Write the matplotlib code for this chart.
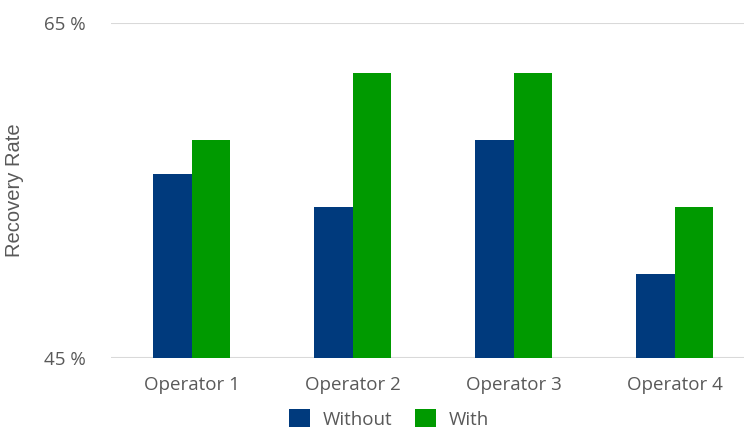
import numpy as np
import matplotlib
matplotlib.use("Agg")
from matplotlib import pyplot as plt

# chart data
operators = ["Operator 1", "Operator 2", "Operator 3", "Operator 4"]
without_vals = [56, 54, 58, 50]
with_vals = [58, 62, 62, 54]
series_names = ["Without", "With"]
colors = ["#003a7d", "#009a00"]

plt.rcParams['font.family'] = ['Open Sans', 'DejaVu Sans']

fig = plt.figure(figsize=(7.44, 4.30), dpi=100)
ax = fig.add_axes([111/744, 72/430, 644/744, 335/430])

x = np.arange(len(operators))
w = 0.24
ax.bar(x - w/2, without_vals, w, color=colors[0], label=series_names[0], zorder=3)
ax.bar(x + w/2, with_vals, w, color=colors[1], label=series_names[1], zorder=3)

ax.set_ylim(45, 65)
ax.set_xlim(-0.5, 3.5)
ax.set_yticks([45, 65])
ax.set_yticklabels(["45 %", "65 %"])
ax.set_xticks(x)
ax.set_xticklabels(operators)
ax.tick_params(length=0, labelsize=13.5, colors="#595959")
ax.tick_params(axis='y', pad=18)
ax.tick_params(axis='x', pad=13)
for s in ax.spines.values():
    s.set_visible(False)
for yv in [45, 65]:
    ax.axhline(yv, color="#d9d9d9", lw=1.5, zorder=1)

fig.text(15/744, 1 - 190/430, "Recovery Rate", rotation=90, ha='center', va='center',
         fontsize=14.5, color="#595959", family=['Liberation Sans', 'DejaVu Sans'])

fig.legend(loc='center', bbox_to_anchor=(389/744, 1 - 419/430), ncol=2, frameon=False,
           fontsize=13.5, handlelength=1.1, handleheight=1.1, handletextpad=0.7,
           columnspacing=1.2, labelcolor="#595959", borderpad=0.2)

fig.savefig("out.png", dpi=100)
